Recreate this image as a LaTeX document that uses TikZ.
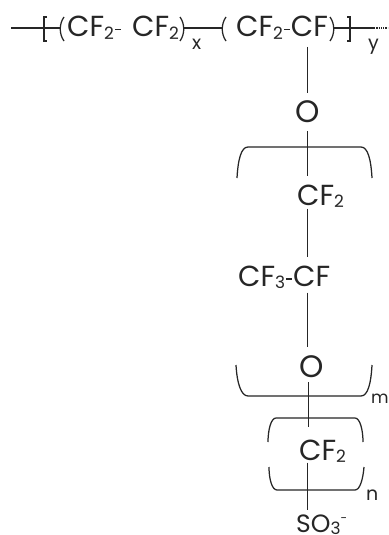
\documentclass[tikz,border=0pt]{standalone}
\usepackage{fontspec}
\setmainfont{Poppins}
\newcommand{\sbs}[1]{\raisebox{-2.4pt}{\fontsize{17}{17}\selectfont #1}}
\newcommand{\hyp}{\kern1pt\rule[6.5pt]{6pt}{1.3pt}\kern1pt}
\begin{document}
\begin{tikzpicture}[x=1pt,y=-1pt,
  ink/.style={draw=black!85,line width=1.25pt},
  chem/.style={font=\fontsize{29}{29}\selectfont,text=black!85,inner sep=0pt,anchor=base west},
  idx/.style={font=\fontsize{19}{19}\selectfont,text=black!85,inner sep=0pt,anchor=base west}]
\useasboundingbox (0,0) rectangle (388,535);
\clip (0,0) rectangle (388,535);
\fill[white] (0,0) rectangle (388,535);
% text
\node[chem] (ua) at (67,37) {CF\sbs{2}\hyp};
\node[chem] (ub) at (132,37) {CF\sbs{2}};
\node[chem] (uc) at (236,37) {CF\sbs{2}\hyp CF};
\node[idx] (x) at (192,49) {x};
\node[idx] (y) at (368,49) {y};
\node[chem,anchor=center,font=\fontsize{31}{31}\selectfont] (o1) at (308,112) {O};
\node[chem] (cf2a) at (297,205) {CF\sbs{2}};
\node[chem] (cf3) at (238,286) {CF\sbs{3}\hyp CF};
\node[chem,anchor=center,font=\fontsize{31}{31}\selectfont] (o2) at (312,367) {O};
\node[idx,font=\fontsize{17}{17}\selectfont] (m) at (371,403) {m};
\node[chem] (cf2b) at (299,460) {CF\sbs{2}};
\node[idx] (n) at (366,500) {n};
\node[chem,font=\fontsize{25}{25}\selectfont] (so) at (296,532) {SO\sbs{3}\raisebox{10pt}{\fontsize{12}{12}\selectfont -}};
% free ends of the main chain
\coordinate (lstart) at (11,28);
\coordinate (lp1) at (60,28);
\coordinate (rp1) at (184,28);
\coordinate (lp2) at (222,28);
\coordinate (rp2) at (334,28);
\coordinate (lend) at (374,28);
\coordinate (top) at (307.5,47);
% main chain
\draw[ink] (lstart) -- (lp1);
\draw[ink] (rp1) -- (lp2);
\draw[ink] (rp2) -- (lend);
\draw[ink,densely dotted] (lend) -- (388,28);
% square brackets
\draw[ink] (47,17) -- (44,17) -- (44,41) -- (47,41);
\draw[ink] (347,17) -- (350,17) -- (350,41) -- (347,41);
% parentheses
\draw[ink] (64,17) .. controls (59,24) and (59,34) .. (64,41);
\draw[ink] (180,17) .. controls (185,24) and (185,34) .. (180,41);
\draw[ink] (226,17) .. controls (221,24) and (221,34) .. (226,41);
\draw[ink] (330,17) .. controls (335,24) and (335,34) .. (330,41);
% vertical chain, node to node
\draw[ink,shorten >=8pt] (top) -- (top |- o1.north);
\draw[ink,shorten <=8pt,shorten >=8pt] (top |- o1.south) -- (top |- cf2a.north);
\draw[ink,shorten <=1pt,shorten >=8pt] (top |- cf2a.south) -- (top |- cf3.north);
\draw[ink,shorten <=4pt,shorten >=9pt] (top |- cf3.south) -- (top |- o2.north);
\draw[ink,shorten <=4pt,shorten >=12pt] ([xshift=1pt]top |- o2.south) -- ([xshift=1pt]top |- cf2b.north);
\draw[ink,shorten >=4pt] (top |- cf2b.south) -- (top |- so.north);
% large brackets
\draw[ink] (237,178) .. controls (238,160) and (241,147) .. (248,147) -- (361,147) .. controls (368,147) and (371,160) .. (372,178);
\draw[ink] (236,365) .. controls (237,383) and (241,396) .. (248,396) -- (361,396) .. controls (368,396) and (371,383) .. (372,365);
\draw[ink] (268,442) .. controls (268,430) and (271,418) .. (276,418) -- (355,418) .. controls (360,418) and (363,430) .. (363,442);
\draw[ink] (269,467) .. controls (269,479) and (272,490) .. (277,490) -- (355,490) .. controls (360,490) and (363,479) .. (364,467);
\end{tikzpicture}
\end{document}
